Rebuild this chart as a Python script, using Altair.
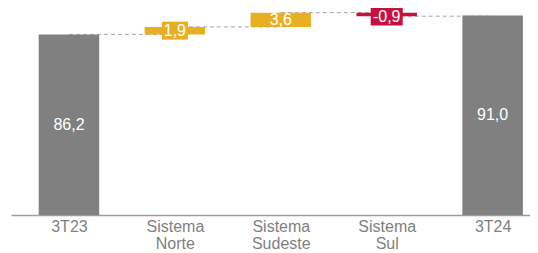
import json
import altair as alt
import pandas as pd

categories = ["3T23", "Sistema Norte", "Sistema Sudeste", "Sistema Sul", "3T24"]
values = [86.2, 1.9, 3.6, -0.9, 91.0]
kinds = ["total", "delta", "delta", "delta", "total"]
labels = ["86,2", "1,9", "3,6", "-0,9", "91,0"]

Y_MIN = 40.6
Y_MAX = 92.87
STEP = 108.0
PLOT_W = 519
BAR_W = 60.5

rows = []
cum = 0.0
for i, (c, v, k, lab) in enumerate(zip(categories, values, kinds, labels)):
    if k == "total":
        start, end = Y_MIN, v
        cum = v
        typ = "total"
    else:
        start, end = cum, cum + v
        cum = cum + v
        typ = "up" if v >= 0 else "down"
    rows.append(dict(idx=i, cat=c, start=start, end=end, mid=(start + end) / 2,
                     level=cum, typ=typ, label=lab, delta=abs(v) if k == "delta" else None))
df = pd.DataFrame(rows)

conn = pd.DataFrame([
    dict(idx=i, nxt=i + 1, level=rows[i]["level"])
    for i in range(len(categories) - 1)
])

x_scale = alt.Scale(domain=[-0.5, -0.5 + PLOT_W / STEP], nice=False, zero=False)
y_scale = alt.Scale(domain=[Y_MIN, Y_MAX], zero=False, nice=False)
color_scale = alt.Scale(domain=["total", "up", "down"], range=["#808080", "#E9AF22", "#C8103E"])

x_axis = alt.Axis(
    title=None, labelAngle=0, ticks=False, grid=False, domainColor="#9e9e9e", domainWidth=1.5,
    values=list(range(len(categories))), labelOverlap=False, labelFlush=False,
    labelColor="#7f7f7f", labelFont="Liberation Sans", labelFontSize=16,
    labelPadding=3, labelLineHeight=17,
    labelExpr="split(" + json.dumps(categories) + "[datum.value], ' ')",
)

base = alt.Chart(df)
X = alt.X("idx:Q", scale=x_scale, axis=x_axis)
YMID = alt.Y("mid:Q", scale=y_scale, axis=None)
COLOR = alt.Color("typ:N", scale=color_scale, legend=None)

rules = alt.Chart(conn).mark_rule(color="#a6a6a6", strokeDash=[4, 3], strokeWidth=1).encode(
    x=X, x2="nxt:Q", y=alt.Y("level:Q", scale=y_scale, axis=None),
)

bars = base.mark_bar(width=BAR_W).encode(
    x=X, y=alt.Y("start:Q", scale=y_scale, axis=None), y2="end:Q", color=COLOR,
)

small = base.transform_filter("datum.delta != null && datum.delta < 3").transform_calculate(
    boxw="8 + 6 * length(datum.label)"
)

boxes_up = small.transform_filter("datum.typ == 'up'").mark_tick(
    thickness=18, opacity=1, orient="horizontal"
).encode(x=X, y=YMID, size=alt.Size("boxw:Q", scale=None), color=COLOR)

boxes_down = small.transform_filter("datum.typ == 'down'").mark_tick(
    thickness=18, opacity=1, orient="horizontal", yOffset=2
).encode(x=X, y=YMID, size=alt.Size("boxw:Q", scale=None), color=COLOR)

texts = base.transform_filter("datum.typ != 'down'").mark_text(
    color="white", font="Liberation Sans", fontSize=16, baseline="middle"
).encode(x=X, y=YMID, text="label:N")

texts_down = base.transform_filter("datum.typ == 'down'").mark_text(
    color="white", font="Liberation Sans", fontSize=16, baseline="middle", dy=3
).encode(x=X, y=YMID, text="label:N")

chart = alt.layer(rules, bars, boxes_up, boxes_down, texts, texts_down).properties(
    width=PLOT_W, height=207,
    autosize=alt.AutoSizeParams(type="none"),
    padding={"left": 3, "top": 0, "right": 0, "bottom": 38},
).configure_view(stroke=None)

chart.save("out.html", embed_options={"renderer": "svg", "actions": False})
